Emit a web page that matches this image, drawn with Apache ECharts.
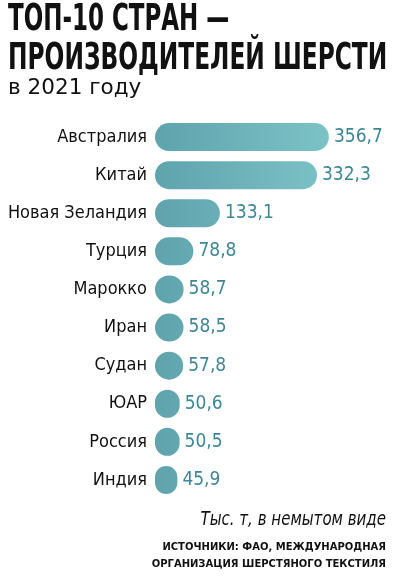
<!DOCTYPE html>
<html><head><meta charset="utf-8">
<script src="https://cdn.jsdelivr.net/npm/echarts@6/dist/echarts.min.js"></script>
<style>html,body{margin:0;padding:0;background:#fff}#c{width:396px;height:577px}</style>
</head><body><div id="c"></div>
<script>
const categories = ['Австралия','Китай','Новая Зеландия','Турция','Марокко','Иран','Судан','ЮАР','Россия','Индия'];
const values = [356.7, 332.3, 133.1, 78.8, 58.7, 58.5, 57.8, 50.6, 50.5, 45.9];
const titleLines = ['ТОП-10 СТРАН —','ПРОИЗВОДИТЕЛЕЙ ШЕРСТИ'];
const subtitle = 'в 2021 году';
const unitNote = 'Тыс. т, в немытом виде';
const sourceLines = ['ИСТОЧНИКИ: ФАО, МЕЖДУНАРОДНАЯ','ОРГАНИЗАЦИЯ ШЕРСТЯНОГО ТЕКСТИЛЯ'];

const NARROW = "'DejaVu Sans Condensed','Liberation Sans Narrow',sans-serif";
const chart = echarts.init(document.getElementById('c'));
const fmt = v => v.toFixed(1).replace('.', ',');
chart.setOption({
  backgroundColor: '#fff',
  animation: false,
  grid: { left: 155, right: 46, top: 118, bottom: 78, containLabel: false },
  xAxis: { type: 'value', min: 0, max: 400, show: false },
  yAxis: {
    type: 'category', data: categories, inverse: true,
    axisLine: { show: false }, axisTick: { show: false },
    axisLabel: { color: '#111', fontSize: 18, fontFamily: NARROW, margin: 8 }
  },
  series: [{
    type: 'bar', data: values, barWidth: 28,
    itemStyle: {
      borderRadius: 14,
      color: new echarts.graphic.LinearGradient(155, 0, 330, 0, [
        { offset: 0, color: '#5fa3ad' }, { offset: 1, color: '#7cc3c7' }
      ], true)
    },
    label: {
      show: true, position: 'right', distance: 5, color: '#3d8797',
      fontSize: 19, fontFamily: NARROW, formatter: p => fmt(p.value)
    }
  }],
  graphic: [
    { type: 'text', x: 8, y: 2, scaleX: 0.69, originX: 0, style: { text: titleLines[0], fill: '#111', font: "bold 37px " + NARROW } },
    { type: 'text', x: 8, y: 41, scaleX: 0.7, originX: 0, style: { text: titleLines[1], fill: '#111', font: "bold 37px " + NARROW } },
    { type: 'text', x: 8, y: 78, scaleX: 1.14, originX: 0, style: { text: subtitle, fill: '#111', font: "21px " + NARROW } },
    { type: 'text', x: 386, y: 511, scaleX: 0.88, originX: 0, style: { text: unitNote, textAlign: 'right', fill: '#111', font: "italic 19px " + NARROW } },
    { type: 'text', x: 386, y: 542, style: { text: sourceLines[0], textAlign: 'right', fill: '#111', font: "bold 10px 'DejaVu Sans',sans-serif" } },
    { type: 'text', x: 386, y: 559, style: { text: sourceLines[1], textAlign: 'right', fill: '#111', font: "bold 10px 'DejaVu Sans',sans-serif" } }
  ]
});
</script></body></html>
